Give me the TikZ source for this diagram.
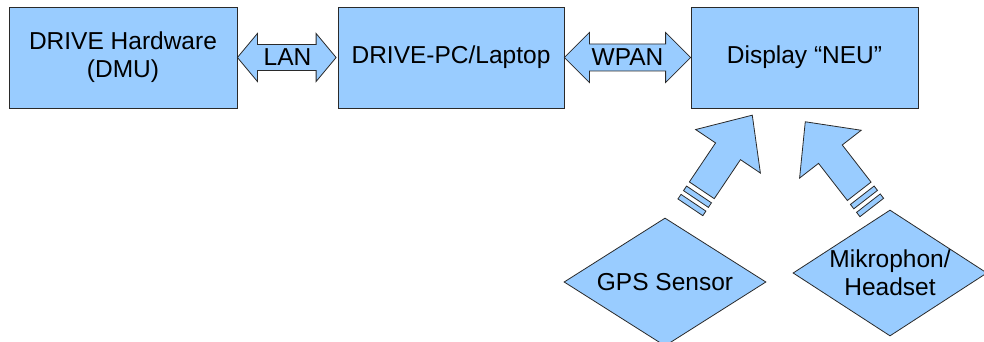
\documentclass[tikz,border=0pt]{standalone}
\usepackage{fontspec}
\setmainfont{Liberation Sans}
\usetikzlibrary{shapes.geometric,calc}
\definecolor{boxblue}{HTML}{99CCFF}
\definecolor{edgegray}{HTML}{2A2A2A}

% striped block arrow: base centre, direction angle, length
\newcommand\stripedarrow[3]{%
  \begin{scope}[shift={#1}, rotate=#2]
    \draw[shapefill] (0,-15) -- (47,-15) -- (47,-39) -- (#3,0) -- (47,39)
      -- (47,15) -- (0,15) -- cycle;
    \draw[shapefill] (-5,-15) rectangle (-10.5,15);
    \draw[shapefill] (-15,-15) rectangle (-20.5,15);
  \end{scope}}

\begin{document}
\begin{tikzpicture}[x=1pt, y=-1pt,
  every node/.style={font=\fontsize{24.5}{28}\selectfont, text=black},
  shapefill/.style={draw=edgegray, fill=boxblue, line width=0.8pt, line join=miter},
  block/.style={shapefill, inner sep=0pt, align=center, minimum height=101pt},
  dmd/.style={shapefill, diamond, aspect=1.58, inner sep=0pt, align=center}]

\clip (0,0) rectangle (984,342);

% main blocks
\node[block, minimum width=228pt] (hw) at (123,57.5) {DRIVE Hardware\\(DMU)};
\node[block, minimum width=226pt] (pc) at (451,57.5) {DRIVE-PC/Laptop};
\node[block, minimum width=227pt] (disp) at (804.5,57.5) {Display “NEU”};

% LAN double arrow
\draw[shapefill] (hw.east) -- ++(20,-24) -- ++(0,11)
  -- ($(pc.west)+(-21.5,-13)$) -- ++(0,-11) -- ($(pc.west)+(-1.5,0)$)
  -- ++(-20,24) -- ++(0,-11) -- ($(hw.east)+(20,13)$) -- ++(0,11) -- cycle;
\node (lan) at ($(hw.east)!0.5!(pc.west)$) {LAN};

% WPAN double arrow
\draw[shapefill] (pc.east) -- ++(25,-25) -- ++(0,11.5)
  -- ($(disp.west)+(-25,-13.5)$) -- ++(0,-11.5) -- (disp.west)
  -- ++(-25,25) -- ++(0,-11.5) -- ($(pc.east)+(25,13.5)$) -- ++(0,11.5) -- cycle;
\node (wpan) at ($(pc.east)!0.5!(disp.west)$) {WPAN};

% input devices
\node[dmd, minimum width=202pt, minimum height=128pt] (gps) at (665,282) {GPS Sensor};
\node[dmd, minimum width=194pt, minimum height=126pt] (mic) at (890,273) {Mikrophon/\\Headset};

% striped arrows towards the display
\stripedarrow{(701.8,190.3)}{56.1}{90.5}
\stripedarrow{(859.2,191.3)}{127.8}{88}

\end{tikzpicture}
\end{document}
